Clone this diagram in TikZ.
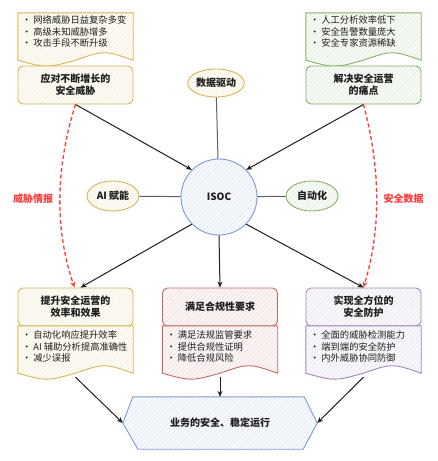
\documentclass[tikz,border=0pt]{standalone}
\usepackage{fontspec}
\setmainfont{Noto Sans CJK SC}
\usepackage{tikz}
\usetikzlibrary{arrows.meta,shapes.geometric,patterns.meta}

\definecolor{ylw}{HTML}{D6B656}
\definecolor{grn}{HTML}{82B366}
\definecolor{blu}{HTML}{7C9CCF}
\definecolor{rdd}{HTML}{C26A66}
\definecolor{prp}{HTML}{A386B8}
\definecolor{ink}{HTML}{1E1E1E}
\definecolor{alert}{HTML}{FF3B3B}

\tikzset{
  hatch/.style={draw=#1, line width=0.9pt, preaction={fill=#1!6},
    pattern={Lines[angle=45,distance=3.2pt,line width=0.35pt]}, pattern color=#1!32},
  head/.style={hatch=#1, rounded corners=5pt, minimum width=115pt, minimum height=38pt,
    align=center, font=\bfseries, text=ink},
  area/.style={minimum width=115pt, minimum height=51pt, inner sep=0pt},
  pts/.style={anchor=north west, align=left, inner sep=2pt, text=ink},
  bubble/.style={ellipse, hatch=#1, minimum width=52pt, minimum height=30pt, inner sep=0pt,
    font=\bfseries, text=ink},
  flow/.style={ink, line width=1pt, -{Stealth[length=6pt,width=5pt]}},
  spoke/.style={ink!70, line width=1pt},
  intel/.style={alert, line width=1.3pt, dash pattern=on 4pt off 2.5pt, -{Stealth[length=6pt,width=5pt]}},
}

% note with a wavy lower edge
\newcommand\wavy[2]{%
  \draw[hatch=#2] (#1.north west) -- (#1.north east) -- ([yshift=4pt]#1.south east)
    .. controls ([xshift=-29pt,yshift=14pt]#1.south east) .. ([yshift=4pt]#1.south)
    .. controls ([xshift=-29pt,yshift=-4pt]#1.south) .. ([yshift=4pt]#1.south west) -- cycle;}

\begin{document}
\begin{tikzpicture}[x=1pt, y=-1pt, font=\fontsize{9.3}{11.5}\selectfont]
\fill[white] (0,0) rectangle (437,461);
\useasboundingbox (0,0) rectangle (437,461);

% top row
\node[area] (tlnote) at (75.5,38.5) {};
\wavy{tlnote}{ylw}
\node[pts] (tlpts) at ([xshift=2pt,yshift=-1pt]tlnote.north west) {• 网络威胁日益复杂多变\\• 高级未知威胁增多\\• 攻击手段不断升级};
\node[head=ylw] (tltitle) at (75.5,85) {应对不断增长的\\安全威胁};

\node[area] (trnote) at (363.5,38.5) {};
\wavy{trnote}{grn}
\node[pts] (trpts) at ([xshift=2pt,yshift=-1pt]trnote.north west) {• 人工分析效率低下\\• 安全告警数量庞大\\• 安全专家资源稀缺};
\node[head=grn] (trtitle) at (363.5,85) {解决安全运营\\的痛点};

% centre
\node[bubble=ylw, minimum width=46pt, minimum height=28pt] (drive) at (216,83) {数据驱动};
\node[circle, hatch=blu, minimum size=76pt, font=\bfseries, text=ink] (isoc) at (219,197) {ISOC};
\node[bubble=ylw] (ai) at (113,196) {AI 赋能};
\node[bubble=grn] (auto) at (312,196) {自动化};

% bottom row
\node[head=ylw] (bltitle) at (75.5,307) {提升安全运营的\\效率和效果};
\node[area] (blnote) at (75.5,351.5) {};
\wavy{blnote}{ylw}
\node[pts] (blpts) at ([xshift=2pt,yshift=-3pt]blnote.north west) {• 自动化响应提升效率\\• AI 辅助分析提高准确性\\• 减少误报};

\node[head=rdd] (bmtitle) at (220,307) {满足合规性要求};
\node[area] (bmnote) at (220,351.5) {};
\wavy{bmnote}{rdd}
\node[pts] (bmpts) at ([xshift=2pt,yshift=-3pt]bmnote.north west) {• 满足法规监管要求\\• 提供合规性证明\\• 降低合规风险};

\node[head=prp] (brtitle) at (363.5,307) {实现全方位的\\安全防护};
\node[area] (brnote) at (363.5,351.5) {};
\wavy{brnote}{prp}
\node[pts] (brpts) at ([xshift=2pt,yshift=-3pt]brnote.north west) {• 全面的威胁检测能力\\• 端到端的安全防护\\• 内外威胁协同防御};

\node[minimum width=194pt, minimum height=52pt, inner sep=0pt] (goal) at (220,423) {};
\draw[hatch=blu] (goal.west) -- ([xshift=10pt]goal.north west) -- ([xshift=-13pt]goal.north east)
  -- (goal.east) -- ([xshift=-14pt]goal.south east) -- ([xshift=15pt]goal.south west) -- cycle;
\node[font=\bfseries, text=ink] (goaltxt) at (goal) {业务的安全、稳定运行};

% connectors
\draw[flow] (tltitle.south) -- (isoc.135);
\draw[flow] (trtitle.south) -- (isoc.45);
\draw[spoke] (drive) -- (isoc);
\draw[spoke] (ai) -- (isoc);
\draw[spoke] (auto) -- (isoc);
\draw[flow] (isoc.225) -- ([xshift=5pt]bltitle.north);
\draw[flow] (isoc.south) -- (bmtitle.north);
\draw[flow] (isoc.-45) -- (brtitle.north);
\draw[intel] (tltitle.south) .. controls (55,170) and (55,230) .. ([xshift=-1pt]bltitle.north)
  node[pos=0.5, left=3pt, font=\bfseries] {威胁情报};
\draw[intel] (trtitle.south) .. controls (381,170) and (381,230) .. (brtitle.north)
  node[pos=0.5, right=3pt, font=\bfseries] {安全数据};
\draw[flow] (blnote.south) -- (goal.west);
\draw[flow] (bmnote.south) -- (goal.north);
\draw[flow] (brnote.south) -- (goal.east);
\end{tikzpicture}
\end{document}
